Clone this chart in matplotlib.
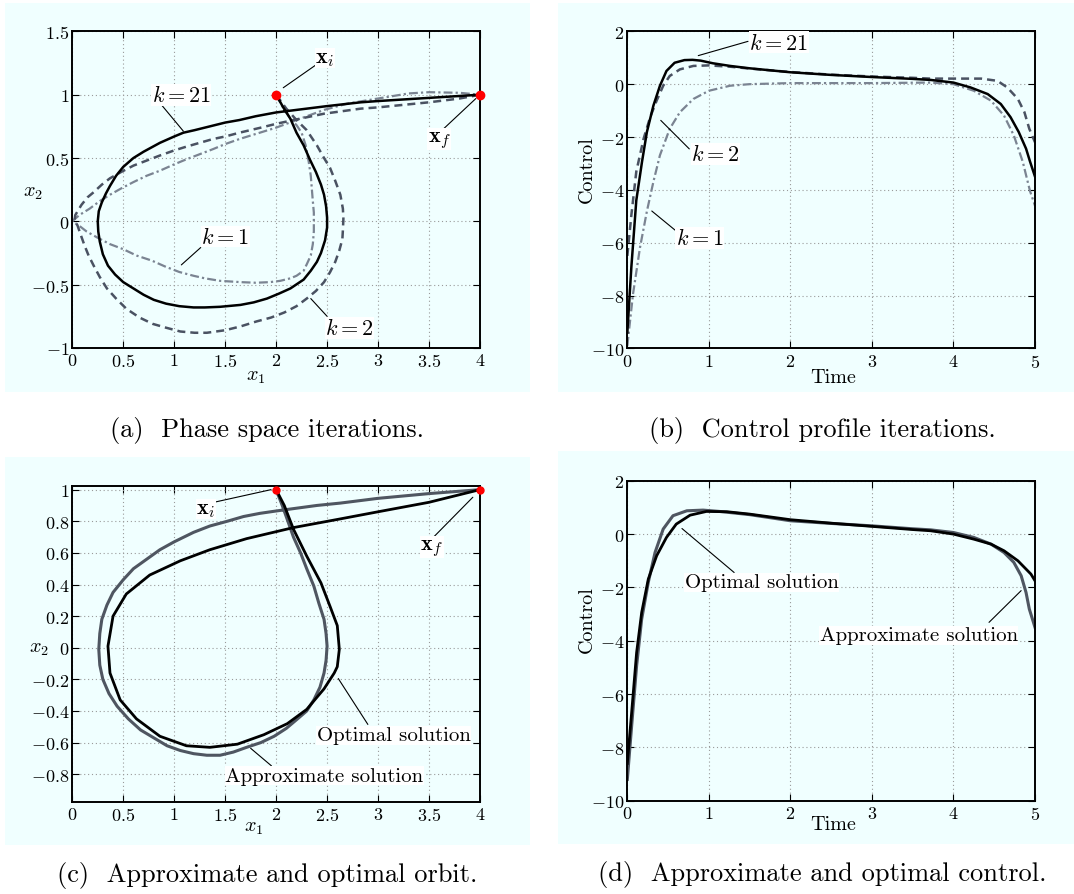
import matplotlib
matplotlib.use('Agg')
import matplotlib.pyplot as plt
from matplotlib.patches import Rectangle
from matplotlib.ticker import FuncFormatter, MultipleLocator

plt.rcParams.update({
    'font.family': 'serif',
    'font.serif': ['cmr10'],
    'mathtext.fontset': 'cm',
    'axes.unicode_minus': True,
    'axes.formatter.use_mathtext': True,
})

# ---------------- data: panel (a) phase space iterations ----------------
k21_x1 = [2.0, 2.07, 2.14, 2.2, 2.27, 2.33, 2.39, 2.44, 2.47, 2.49, 2.5, 2.5, 2.48, 2.44, 2.4, 2.34,
          2.27, 2.14, 2.03, 1.91, 1.78, 1.65, 1.45, 1.3, 1.19, 1.05, 0.92, 0.8, 0.7, 0.6, 0.5, 0.42,
          0.35, 0.3, 0.27, 0.255, 0.25, 0.26, 0.29, 0.33, 0.37, 0.43, 0.5, 0.6, 0.7, 0.86, 1.0, 1.09,
          1.2, 1.35, 1.5, 1.64, 1.8, 2.0, 2.3, 2.5, 2.83, 3.0, 3.5, 4.0]
k21_x2 = [1.0, 0.9, 0.81, 0.7, 0.6, 0.49, 0.39, 0.29, 0.21, 0.12, 0.03, -0.05, -0.15, -0.25, -0.32, -0.39,
          -0.46, -0.53, -0.57, -0.61, -0.64, -0.66, -0.675, -0.68, -0.68, -0.67, -0.65, -0.62, -0.58, -0.53, -0.48, -0.42,
          -0.35, -0.26, -0.16, -0.08, 0.0, 0.08, 0.15, 0.22, 0.28, 0.36, 0.43, 0.5, 0.55, 0.62, 0.67, 0.7,
          0.72, 0.75, 0.78, 0.8, 0.83, 0.86, 0.89, 0.91, 0.94, 0.95, 0.975, 1.0]

k2_x1 = [2.0, 2.1, 2.2, 2.3, 2.4, 2.47, 2.53, 2.58, 2.63, 2.655, 2.66, 2.655, 2.65, 2.62, 2.58, 2.53,
         2.47, 2.39, 2.3, 2.2, 2.08, 1.95, 1.81, 1.65, 1.5, 1.32, 1.2, 1.06, 0.92, 0.79, 0.66, 0.53,
         0.43, 0.34, 0.27, 0.21, 0.16, 0.12, 0.08, 0.05, 0.02, 0.03, 0.09, 0.15, 0.21, 0.29, 0.37, 0.48,
         0.6, 0.73, 0.86, 1.0, 1.12, 1.25, 1.38, 1.5, 1.64, 1.85, 2.0, 2.17, 2.47, 2.83, 3.0, 3.5, 3.8, 4.0]
k2_x2 = [1.0, 0.89, 0.8, 0.72, 0.6, 0.5, 0.42, 0.32, 0.21, 0.1, 0.02, -0.07, -0.14, -0.23, -0.32, -0.4,
         -0.48, -0.55, -0.61, -0.67, -0.72, -0.76, -0.79, -0.83, -0.86, -0.88, -0.88, -0.87, -0.84, -0.81, -0.76, -0.69,
         -0.61, -0.53, -0.44, -0.35, -0.27, -0.19, -0.1, -0.03, 0.0, 0.05, 0.13, 0.19, 0.23, 0.29, 0.34, 0.39,
         0.44, 0.48, 0.52, 0.56, 0.59, 0.62, 0.65, 0.67, 0.7, 0.74, 0.77, 0.8, 0.85, 0.89, 0.9, 0.94, 0.97, 1.0]

k1_x1 = [2.0, 2.08, 2.15, 2.2, 2.25, 2.29, 2.32, 2.34, 2.35, 2.36, 2.37, 2.37, 2.37, 2.36, 2.34, 2.3,
         2.27, 2.2, 2.14, 2.04, 1.94, 1.8, 1.65, 1.45, 1.3, 1.19, 1.05, 0.92, 0.78, 0.63, 0.5, 0.37,
         0.25, 0.14, 0.06, 0.0, 0.07, 0.17, 0.27, 0.37, 0.48, 0.6, 0.73, 0.86, 1.0, 1.12, 1.25, 1.38,
         1.5, 1.64, 1.8, 2.0, 2.2, 2.47, 2.7, 3.0, 3.3, 3.5, 3.8, 4.0]
k1_x2 = [1.0, 0.88, 0.8, 0.76, 0.7, 0.6, 0.47, 0.36, 0.26, 0.16, 0.07, -0.02, -0.08, -0.18, -0.27, -0.34,
         -0.39, -0.43, -0.45, -0.47, -0.48, -0.485, -0.48, -0.47, -0.45, -0.43, -0.4, -0.36, -0.31, -0.27, -0.22, -0.18,
         -0.13, -0.08, -0.03, 0.0, 0.05, 0.1, 0.16, 0.21, 0.26, 0.31, 0.36, 0.4, 0.45, 0.49, 0.53, 0.57,
         0.61, 0.65, 0.69, 0.74, 0.8, 0.88, 0.93, 0.97, 1.01, 1.02, 1.015, 1.0]

endpoints_x1 = [2.0, 4.0]
endpoints_x2 = [1.0, 1.0]

# ---------------- data: panel (b) control iterations ----------------
k21_t = [0, 0.05, 0.11, 0.18, 0.24, 0.32, 0.4, 0.48, 0.58, 0.7, 0.8, 0.9, 1.05, 1.26, 1.5, 2.0, 2.5,
         3.0, 3.5, 3.72, 4.0, 4.21, 4.42, 4.58, 4.7, 4.8, 4.89, 4.94, 5.0]
k21_u = [-9.4, -6.9, -4.4, -2.94, -1.81, -0.81, -0.06, 0.5, 0.81, 0.91, 0.92, 0.89, 0.79, 0.69, 0.6, 0.45, 0.35,
         0.27, 0.2, 0.16, 0.06, -0.125, -0.375, -0.75, -1.25, -1.81, -2.44, -2.94, -3.5]

k2_t = [0, 0.05, 0.11, 0.2, 0.28, 0.36, 0.44, 0.52, 0.645, 0.81, 1.0, 1.26, 1.5, 2.0, 2.5, 3.0, 3.5,
        3.72, 4.0, 4.34, 4.54, 4.66, 4.79, 4.87, 4.93, 5.0]
k2_u = [-6.5, -4.94, -3.31, -2.06, -1.25, -0.62, -0.06, 0.31, 0.56, 0.69, 0.71, 0.66, 0.59, 0.46, 0.36, 0.29, 0.24,
        0.21, 0.21, 0.21, 0.125, -0.125, -0.56, -1.06, -1.69, -2.2]

k1_t = [0, 0.07, 0.155, 0.24, 0.32, 0.4, 0.52, 0.645, 0.81, 1.0, 1.26, 1.5, 2.0, 3.0, 3.72, 4.0,
        4.25, 4.46, 4.62, 4.74, 4.85, 4.91, 4.94, 5.0]
k1_u = [-9.9, -7.94, -6.19, -4.81, -3.69, -2.69, -1.69, -1.06, -0.56, -0.25, -0.06, 0.0, 0.04, 0.04, 0.06, 0.0,
        -0.25, -0.625, -1.19, -1.94, -2.94, -3.69, -4.06, -4.6]

# ---------------- data: panel (c) approximate vs optimal orbit ----------------
app_x1 = [2.0, 2.06, 2.11, 2.17, 2.24, 2.3, 2.37, 2.42, 2.47, 2.49, 2.5, 2.49, 2.47, 2.43, 2.37, 2.3,
          2.21, 2.1, 1.98, 1.85, 1.71, 1.58, 1.45, 1.32, 1.19, 1.06, 0.93, 0.8, 0.67, 0.55, 0.44, 0.36,
          0.3, 0.27, 0.26, 0.27, 0.29, 0.34, 0.4, 0.5, 0.6, 0.73, 0.86, 1.0, 1.19, 1.35, 1.52, 1.68,
          1.84, 2.0, 2.17, 2.4, 2.63, 3.0, 3.5, 4.0]
app_x2 = [1.0, 0.9, 0.81, 0.7, 0.6, 0.5, 0.39, 0.28, 0.18, 0.09, 0.01, -0.08, -0.16, -0.25, -0.33, -0.4,
          -0.45, -0.51, -0.56, -0.6, -0.63, -0.66, -0.68, -0.68, -0.67, -0.65, -0.62, -0.57, -0.52, -0.45, -0.37, -0.29,
          -0.2, -0.11, -0.01, 0.09, 0.18, 0.27, 0.35, 0.43, 0.5, 0.56, 0.62, 0.67, 0.73, 0.77, 0.8, 0.83,
          0.85, 0.865, 0.88, 0.9, 0.915, 0.945, 0.975, 1.0]

opt_x1 = [2.0, 2.08, 2.17, 2.3, 2.44, 2.53, 2.6, 2.62, 2.6, 2.57, 2.47, 2.3, 2.11, 1.88, 1.62, 1.35,
          1.12, 0.86, 0.63, 0.47, 0.37, 0.35, 0.4, 0.53, 0.76, 1.06, 1.35, 1.71, 2.17, 2.63, 3.0, 3.5, 4.0]
opt_x2 = [1.0, 0.9, 0.75, 0.58, 0.41, 0.26, 0.14, -0.01, -0.12, -0.16, -0.26, -0.39, -0.48, -0.55, -0.61, -0.63,
          -0.62, -0.56, -0.45, -0.33, -0.16, 0.01, 0.2, 0.34, 0.46, 0.55, 0.62, 0.69, 0.76, 0.815, 0.86, 0.92, 1.0]

# ---------------- data: panel (d) approximate vs optimal control ----------------
opt_t = [0, 0.053, 0.114, 0.176, 0.257, 0.36, 0.48, 0.6, 0.77, 0.97, 1.22, 1.5, 2.0, 2.5, 3.0, 3.5,
         3.72, 4.0, 4.25, 4.46, 4.62, 4.79, 4.95, 5.0]
opt_u = [-8.6, -6.69, -4.44, -2.94, -1.69, -0.81, -0.125, 0.375, 0.71, 0.85, 0.84, 0.75, 0.54, 0.41, 0.29, 0.17,
         0.125, 0.0, -0.19, -0.375, -0.625, -1.0, -1.5, -1.75]
app_t = [0, 0.053, 0.114, 0.176, 0.257, 0.34, 0.44, 0.56, 0.73, 0.93, 1.13, 1.5, 2.0, 2.5, 3.0, 3.5,
         3.72, 4.0, 4.25, 4.46, 4.62, 4.74, 4.83, 4.89, 4.93, 5.0]
app_u = [-9.2, -7.2, -4.94, -3.19, -1.81, -0.69, 0.19, 0.69, 0.875, 0.9, 0.85, 0.73, 0.5, 0.4, 0.31, 0.2,
         0.16, 0.06, -0.125, -0.375, -0.69, -1.06, -1.56, -2.19, -2.81, -3.5]

captions = ['(a)  Phase space iterations.', '(b)  Control profile iterations.',
            '(c)  Approximate and optimal orbit.', '(d)  Approximate and optimal control.']

# ---------------- styling ----------------
W, H = 1074, 895
BG = '#F0FFFF'
C_DASH = '#4a5262'
C_DOT = '#7b8492'
C_APP = '#4f5661'
GRID = '#9a9a9a'

fig = plt.figure(figsize=(W / 100, H / 100), dpi=100)

def px_rect(x0, y0, x1, y1):
    return Rectangle((x0 / W, 1 - y1 / H), (x1 - x0) / W, (y1 - y0) / H,
                     transform=fig.transFigure, facecolor=BG, edgecolor='none', zorder=-10)

for r in [(4.7, 4, 530, 393), (558, 4, 1074, 393), (4.7, 458, 530, 846), (558, 452, 1074, 845)]:
    fig.patches.append(px_rect(*r))

def fmt(v, p):
    v = round(v, 6) + 0.0
    return f'${v:g}$'

def make_axes(rect, xlim, ylim, xstep, ystep):
    ax = fig.add_axes(rect)
    ax.set_facecolor(BG)
    ax.set_xlim(*xlim)
    ax.set_ylim(*ylim)
    ax.xaxis.set_major_locator(MultipleLocator(xstep))
    ax.yaxis.set_major_locator(MultipleLocator(ystep))
    ax.xaxis.set_major_formatter(FuncFormatter(fmt))
    ax.yaxis.set_major_formatter(FuncFormatter(fmt))
    ax.tick_params(direction='in', top=True, right=True, length=5, width=0.8, labelsize=13)
    ax.tick_params(axis='x', pad=3)
    ax.tick_params(axis='y', pad=2)
    ax.grid(True, color=GRID, linestyle=(0, (1, 2.5)), linewidth=0.8)
    ax.set_axisbelow(True)
    for s in ax.spines.values():
        s.set_linewidth(1.4)
    return ax

def label(ax, x, y, s, rot=0, size=14.5):
    ax.text(x, y, s, transform=ax.transAxes, ha='center', va='center', rotation=rot, fontsize=size)

def note(ax, txt, tpos, p0, p1, size=15):
    ax.annotate('', xy=p1, xytext=p0,
                arrowprops=dict(arrowstyle='-', lw=0.8, color='k', shrinkA=0, shrinkB=0))
    ax.text(tpos[0], tpos[1], txt, ha='center', va='center', fontsize=size,
            bbox=dict(facecolor='white', edgecolor='none', pad=0.3))

# ----- panel (a)
axa = make_axes([0.0673, 0.6101, 0.3796, 0.3537], (0, 4), (-1, 1.5), 0.5, 0.5)
axa.plot(k1_x1, k1_x2, color=C_DOT, lw=1.6, dashes=(4.0, 1.4, 1.0, 1.4))
axa.plot(k2_x1, k2_x2, color=C_DASH, lw=1.8, dashes=(3.2, 2.0))
axa.plot(k21_x1, k21_x2, color='k', lw=1.8)
axa.plot(endpoints_x1, endpoints_x2, 'o', color='#ff0000', ms=6, zorder=5, clip_on=False)
label(axa, 0.45, -0.09, r'$x_1$')
label(axa, -0.096, 0.492, r'$x_2$')
note(axa, r'$\mathbf{x}_i$', (2.48, 1.29), (2.39, 1.235), (2.07, 1.055), 16)
note(axa, r'$\mathbf{x}_f$', (3.6, 0.65), (3.61, 0.706), (3.96, 0.97), 16)
note(axa, r'$k=21$', (1.07, 1.0), (0.85, 0.944), (1.09, 0.712), 16)
note(axa, r'$k=1$', (1.5, -0.12), (1.26, -0.207), (1.07, -0.344), 16)
note(axa, r'$k=2$', (2.72, -0.84), (2.5, -0.75), (2.34, -0.61), 16)

# ----- panel (b)
axb = make_axes([0.5841, 0.6096, 0.3796, 0.3543], (0, 5), (-10, 2), 1, 2)
axb.plot(k1_t, k1_u, color=C_DOT, lw=1.6, dashes=(4.0, 1.4, 1.0, 1.4))
axb.plot(k2_t, k2_u, color=C_DASH, lw=1.8, dashes=(3.2, 2.0))
axb.plot(k21_t, k21_u, color='k', lw=1.8)
label(axb, 0.505, -0.09, 'Time')
label(axb, -0.099, 0.566, 'Control', rot=90)
note(axb, r'$k=21$', (1.86, 1.59), (1.48, 1.62), (0.87, 1.08), 16)
note(axb, r'$k=2$', (1.08, -2.64), (0.76, -2.45), (0.41, -1.37), 16)
note(axb, r'$k=1$', (0.89, -5.81), (0.6, -5.56), (0.3, -4.8), 16)

# ----- panel (c)
axc = make_axes([0.0673, 0.1031, 0.3796, 0.3524], (0, 4), (-0.974, 1.021), 0.5, 0.2)
axc.plot(app_x1, app_x2, color=C_APP, lw=2.2)
axc.plot(opt_x1, opt_x2, color='k', lw=2.0)
axc.plot(endpoints_x1, endpoints_x2, 'o', color='#ff0000', ms=5, zorder=5, clip_on=False)
label(axc, 0.446, -0.081, r'$x_1$')
label(axc, -0.083, 0.486, r'$x_2$')
note(axc, r'$\mathbf{x}_i$', (1.31, 0.878), (1.39, 0.92), (1.95, 1.0), 16)
note(axc, r'$\mathbf{x}_f$', (3.53, 0.637), (3.545, 0.70), (3.93, 0.952), 16)
note(axc, 'Optimal solution', (3.155, -0.554), (2.9, -0.485), (2.61, -0.195))
note(axc, 'Approximate solution', (2.47, -0.81), (1.954, -0.747), (1.75, -0.636))

# ----- panel (d)
axd = make_axes([0.5841, 0.1042, 0.3796, 0.3575], (0, 5), (-10, 2), 1, 2)
axd.plot(app_t, app_u, color=C_APP, lw=2.2)
axd.plot(opt_t, opt_u, color='k', lw=2.0)
label(axd, 0.505, -0.073, 'Time')
label(axd, -0.099, 0.568, 'Control', rot=90)
note(axd, 'Optimal solution', (1.645, -1.81), (1.31, -1.44), (0.67, 0.21))
note(axd, 'Approximate solution', (3.575, -3.79), (4.436, -3.31), (4.83, -2.12))

# ----- captions
for (cx, cy), cap in zip([(267, 430), (822, 430), (267, 876), (822, 875)], captions):
    fig.text(cx / W, 1 - cy / H, cap, ha='center', va='center', fontsize=19)

fig.savefig('out.png', dpi=100)
